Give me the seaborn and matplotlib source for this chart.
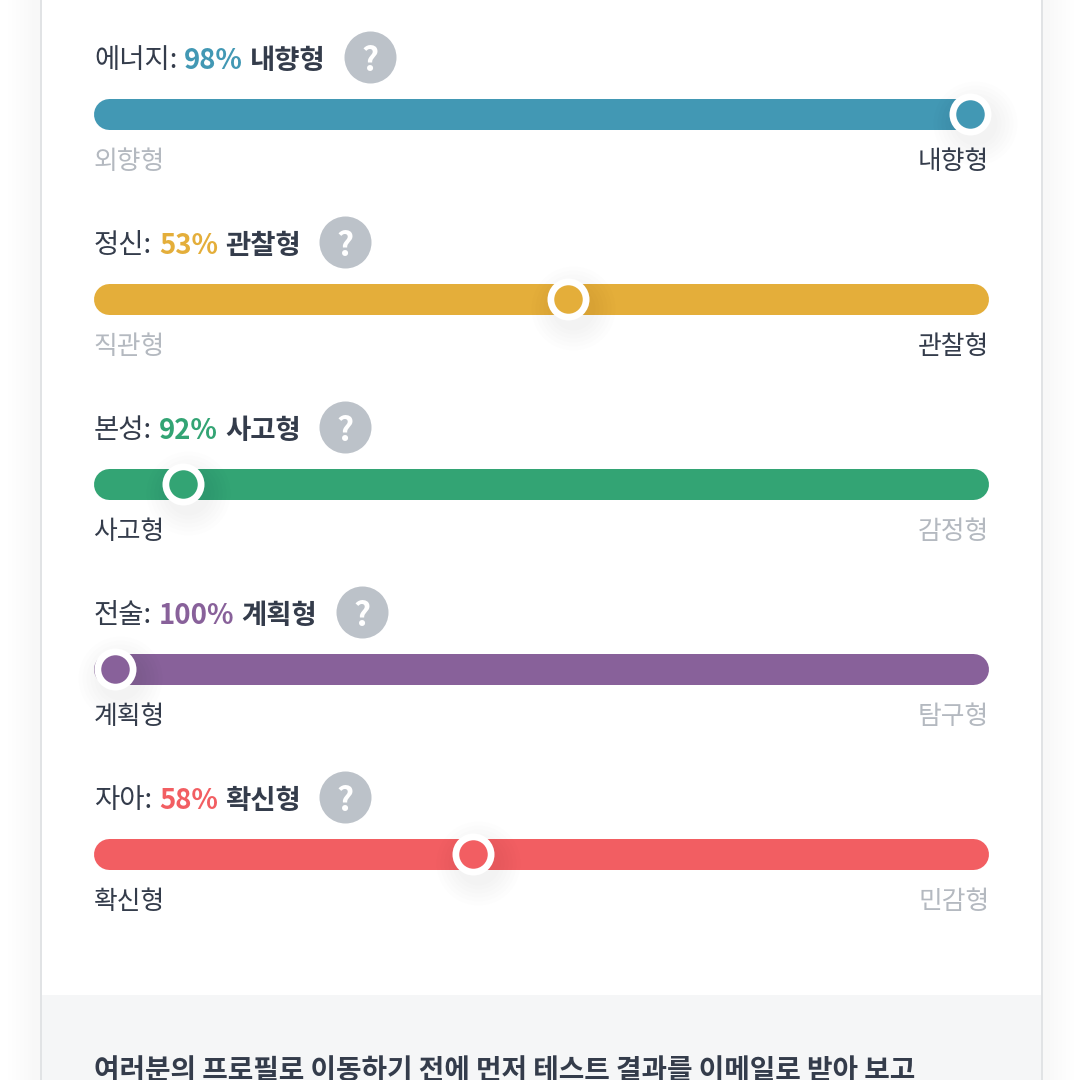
import matplotlib
matplotlib.use("Agg")
import matplotlib.pyplot as plt
import seaborn as sns

traits = ["에너지", "정신", "본성", "전술", "자아"]
percents = [98, 53, 92, 100, 58]
winners = ["내향형", "관찰형", "사고형", "계획형", "확신형"]
left_labels = ["외향형", "직관형", "사고형", "계획형", "확신형"]
right_labels = ["내향형", "관찰형", "감정형", "탐구형", "민감형"]
# where the thumb sits along the track, 0-100 from the left
thumb_pos = [98.0, 53.1, 10.0, 2.35, 42.4]
colors = ["#4298B4", "#E4AE3A", "#33A474", "#88619A", "#F25E62"]
footer = "여러분의 프로필로 이동하기 전에 먼저 테스트 결과를 이메일로 받아 보고"

DARK = "#343C4B"
GREY = "#B4B9C0"

sns.set_theme(style="white")
plt.rcParams["font.family"] = ["Noto Sans CJK KR", "DejaVu Sans"]

fig = plt.figure(figsize=(10.8, 10.8), dpi=100)

# page background, card and footer block, in image pixels
bg = fig.add_axes([0, 0, 1, 1])
bg.set_xlim(0, 1080)
bg.set_ylim(1080, 0)
bg.axis("off")
# faint page shadow beside the card, one grey step per strip
for level in range(1, 8):
    g = (255 - level) / 255
    w = 32 - 4 * (level - 1)
    bg.axvspan(40 - w, 40, color=(g, g, g), lw=0)
    bg.axvspan(1042, 1042 + w, color=(g, g, g), lw=0)
bg.axvspan(41, 1042, color="white", lw=0)
bg.axhspan(995, 1080, xmin=41 / 1080, xmax=1042 / 1080, color="#F5F6F7", lw=0)
bg.axvline(41, color="#E1E3E5", lw=1.4)
bg.axvline(1042, color="#E1E3E5", lw=1.4)
bg.text(94, 1071, footer, fontsize=20, fontweight="bold", color=DARK,
        va="center", ha="left")

TRACK_W = 894
px = 100 / TRACK_W  # track percent per pixel
cap = 15.5 * px


def to_pt(pixels):
    return pixels * 72 / fig.dpi


fig.canvas.draw()
renderer = fig.canvas.get_renderer()

for i, trait in enumerate(traits):
    cy = 113.7 + 185 * i
    ax = fig.add_axes([93.5 / 1080, 1 - (cy + 70) / 1080, TRACK_W / 1080, 140 / 1080])
    ax.patch.set_visible(False)
    ax.set_xlim(0, 100)
    ax.set_ylim(70, -70)
    ax.axis("off")

    sns.lineplot(x=[cap, 100 - cap + 0.06], y=[0, 0], ax=ax, color=colors[i],
                 linewidth=to_pt(31), solid_capstyle="round", errorbar=None, clip_on=False)

    # soft thumb shadow
    for r in range(44, 88, 8):
        sns.scatterplot(x=[thumb_pos[i] + 5 * px], y=[9], ax=ax, s=to_pt(r) ** 2,
                        color="#000000", alpha=0.008, linewidth=0, clip_on=False, zorder=3)
    sns.scatterplot(x=[thumb_pos[i]], y=[0], ax=ax, s=to_pt(42) ** 2, color="white",
                    linewidth=0, clip_on=False, zorder=4)
    sns.scatterplot(x=[thumb_pos[i]], y=[0], ax=ax, s=to_pt(28.5) ** 2, color=colors[i],
                    linewidth=0, clip_on=False, zorder=5)

    # heading: pieces laid out one after another
    x = 0.05
    y = -53
    pieces = [(trait + ":", DARK, "normal", 7),
              (f"{percents[i]}%", colors[i], "bold", 7),
              (winners[i], DARK, "bold", 0)]
    for s, c, w, gap in pieces:
        t = ax.text(x, y, s, color=c, fontweight=w, fontsize=19.8, va="center", ha="left")
        bb = t.get_window_extent(renderer)
        x += (bb.width + gap) * px

    # help badge
    hx = x + 44.5 * px
    sns.scatterplot(x=[hx], y=[-57], ax=ax, s=to_pt(52) ** 2, color="#BCC2C9",
                    linewidth=0, clip_on=False, zorder=3)
    ax.text(hx, -52, "?", color="white", fontweight="bold", fontsize=24,
            ha="center", va="center", zorder=4)

    # end labels, the winning side in dark
    left_c = DARK if left_labels[i] == winners[i] else GREY
    right_c = DARK if right_labels[i] == winners[i] else GREY
    ax.text(0, 48, left_labels[i], color=left_c, fontsize=18.6, va="center", ha="left")
    ax.text(100.2, 48, right_labels[i], color=right_c, fontsize=18.6, va="center", ha="right")

fig.savefig("out.png", dpi=100)
plt.close(fig)
